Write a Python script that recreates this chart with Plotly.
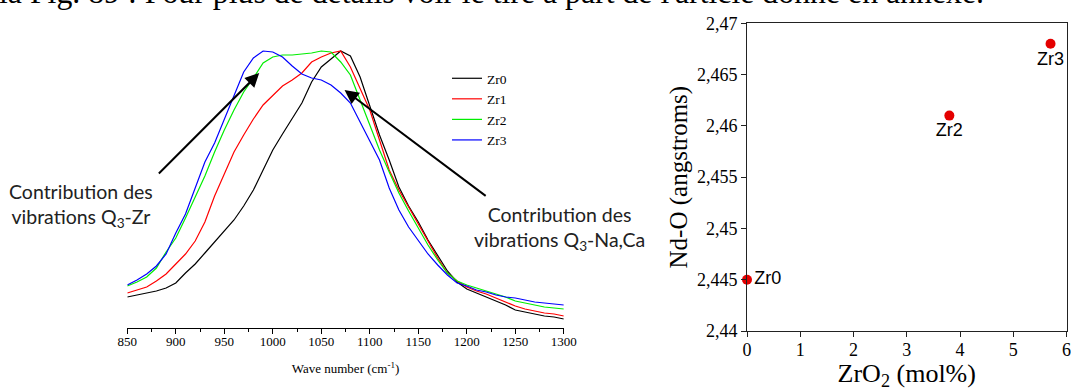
import plotly.graph_objects as go

# ---------------- data ----------------
wavenumber = list(range(850, 1301, 10))

# Raman intensity, arbitrary units
zr0 = [31, 33, 35, 37, 40, 45, 55, 64, 75, 86, 96, 108, 122, 138, 158, 178, 194, 210, 225, 246,
       261, 269, 277, 272, 251, 222, 193, 168, 141, 122, 106, 88, 72, 57, 46, 39, 35, 31, 27, 23,
       18, 16, 14, 12, 11, 9]
zr1 = [35, 38, 41, 47, 54, 64, 74, 87, 106, 132, 154, 176, 193, 209, 223, 233, 242, 248, 255, 266,
       271, 275, 277, 261, 240, 218, 188, 158, 138, 121, 104, 86, 70, 55, 47, 41, 37, 34, 30, 26,
       22, 19, 17, 15, 14, 12]
zr2 = [42, 46, 51, 60, 76, 90, 110, 131, 152, 176, 198, 218, 236, 250, 265, 271, 273, 273, 274, 275,
       277, 276, 266, 253, 228, 202, 178, 156, 135, 117, 100, 83, 68, 55, 47, 43, 40, 37, 34, 31,
       27, 25, 23, 21, 20, 19]
zr3 = [43, 48, 54, 62, 74, 95, 114, 140, 166, 185, 209, 233, 256, 270, 277, 276, 271, 262, 254, 250,
       248, 243, 235, 225, 206, 186, 168, 140, 118, 101, 88, 74, 63, 53, 45, 42, 38, 36, 33, 31,
       30, 28, 26, 25, 24, 23]
series_names = ["Zr0", "Zr1", "Zr2", "Zr3"]
series_colors = ["#000000", "#ff0000", "#00ee00", "#0000ff"]

zro2_mol = [0, 3.8, 5.7]
nd_o = [2.445, 2.461, 2.468]
point_labels = ["Zr0", "Zr2", "Zr3"]
label_positions = ["middle right", "bottom center", "bottom center"]

W, H = 1071, 391
def px(x):
    return x / W
def py(y):
    return 1 - y / H

fig = go.Figure()
for name, vals, col in zip(series_names, [zr0, zr1, zr2, zr3], series_colors):
    fig.add_trace(go.Scatter(x=wavenumber, y=vals, mode="lines", name=name,
                             line=dict(color=col, width=1.2), xaxis="x", yaxis="y"))

fig.add_trace(go.Scatter(x=zro2_mol, y=nd_o, mode="markers+text", text=point_labels,
                         textposition=label_positions, showlegend=False,
                         textfont=dict(family="Liberation Sans", size=18, color="#000"),
                         marker=dict(color="rgb(228,0,0)", size=10),
                         cliponaxis=False, xaxis="x2", yaxis="y2"))

serif = "Liberation Serif"
sans_note = "Lato"

annotations = [
    dict(text="la Fig. 89 : Pour plus de détails voir le tiré à part de l'article donné en annexe.",
         xref="paper", yref="paper", x=-0.003, y=py(-7.5), xanchor="left", yanchor="middle",
         showarrow=False, font=dict(family=serif, size=31.8, color="#000")),
    dict(text="Contribution des<br>vibrations Q<sub>3</sub>-Zr",
         xref="paper", yref="paper", x=px(81), y=py(205), xanchor="center", yanchor="middle",
         align="center", showarrow=False, font=dict(family=sans_note, size=19.5, color="#222")),
    dict(text="Contribution des<br>vibrations Q<sub>3</sub>-Na,Ca",
         xref="paper", yref="paper", x=px(559), y=py(228), xanchor="center", yanchor="middle",
         align="center", showarrow=False, font=dict(family=sans_note, size=19.5, color="#222")),
    dict(text="", x=986, y=255, ax=881, ay=153, xref="x", yref="y", axref="x", ayref="y",
         showarrow=True, arrowhead=2, arrowsize=1.4, arrowwidth=2, arrowcolor="#000", standoff=0),
    dict(text="", x=1074, y=238, ax=1221, ay=131, xref="x", yref="y", axref="x", ayref="y",
         showarrow=True, arrowhead=2, arrowsize=1.4, arrowwidth=2, arrowcolor="#000", standoff=0),
]

fig.update_layout(
    width=W, height=H, margin=dict(l=0, r=0, t=0, b=0, pad=0, autoexpand=False),
    paper_bgcolor="white", plot_bgcolor="white",
    separators=", ",
    showlegend=True,
    legend=dict(x=px(447), y=py(63), xanchor="left", yanchor="top",
                font=dict(family=serif, size=13.5, color="#000"),
                bgcolor="rgba(0,0,0,0)", borderwidth=0, tracegroupgap=0),
    annotations=annotations,
    xaxis=dict(domain=[px(127.3), px(563.8)], range=[850, 1300], anchor="y", automargin=False,
               showline=True, linecolor="#000", linewidth=1, ticks="outside", ticklen=5,
               tickcolor="#000", tick0=850, dtick=50, showgrid=False, zeroline=False,
               ticklabelstandoff=-4,
               minor=dict(ticks="outside", ticklen=3, dtick=25, tick0=850, tickcolor="#000", showgrid=False),
               tickfont=dict(family=serif, size=13, color="#000"),
               title=dict(text="Wave number (cm<sup>-1</sup>)", font=dict(family=serif, size=13, color="#000"),
                          standoff=16)),
    yaxis=dict(domain=[py(328), py(20)], range=[0, 308], visible=False, anchor="x", automargin=False),
    xaxis2=dict(domain=[px(747), px(1066.5)], range=[0, 6], anchor="y2", automargin=False,
                showline=True, mirror=True, linecolor="#222", linewidth=1, ticks="outside",
                ticklen=5, tickcolor="#222", tick0=0, dtick=1, showgrid=False, zeroline=False,
                ticklabelstandoff=-3,
                tickfont=dict(family=serif, size=18, color="#000"),
                title=dict(text="ZrO<sub>2</sub> (mol%)", font=dict(family=serif, size=26, color="#000"),
                           standoff=3)),
    yaxis2=dict(domain=[py(331), py(23.3)], range=[2.44, 2.47], anchor="x2", automargin=False,
                showline=True, mirror=True, linecolor="#222", linewidth=1, ticks="outside",
                ticklen=5, tickcolor="#222", tick0=2.44, dtick=0.005, showgrid=False, zeroline=False,
                tickfont=dict(family=serif, size=18, color="#000"),
                title=dict(text="Nd-O (angstroms)", font=dict(family=serif, size=25, color="#000"),
                           standoff=2)),
)

fig.write_html("out.html", config={"displayModeBar": False},
               post_script="document.body.style.margin='0';document.body.style.overflow='hidden';")
